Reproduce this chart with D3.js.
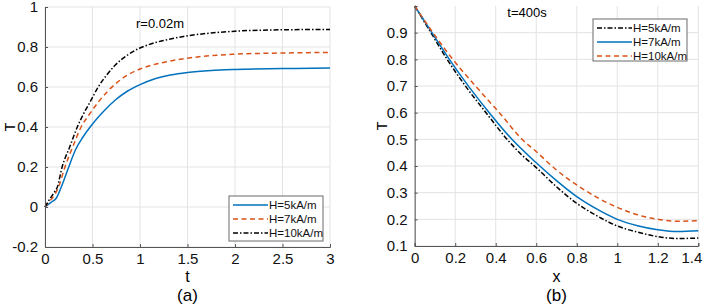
<!DOCTYPE html>
<html>
<head>
<meta charset="utf-8">
<script src="https://cdn.jsdelivr.net/npm/d3@7"></script>
<style>
  body { margin: 0; background: #fff; }
  svg { display: block; font-family: "Liberation Sans", Arial, sans-serif; }
</style>
</head>
<body>
<svg id="chart" width="708" height="305"></svg>
<script>
// ---- panel (a): T vs t, r=0.02m ----
const a_t_h5  = [0, 0.06, 0.12, 0.18, 0.25, 0.32, 0.4, 0.5, 0.6, 0.74, 0.87, 1.0, 1.15, 1.32, 1.5, 1.75, 2.0, 2.5, 3.0];
const a_T_h5  = [0, 0.022, 0.045, 0.11, 0.2, 0.285, 0.35, 0.415, 0.47, 0.535, 0.58, 0.612, 0.64, 0.66, 0.673, 0.683, 0.688, 0.692, 0.695];
const a_t_h7  = [0, 0.05, 0.1, 0.15, 0.21, 0.3, 0.38, 0.47, 0.57, 0.74, 0.87, 1.0, 1.1, 1.32, 1.5, 1.75, 2.0, 2.5, 3.0];
const a_T_h7  = [0, 0.03, 0.06, 0.11, 0.2, 0.31, 0.4, 0.465, 0.53, 0.615, 0.66, 0.69, 0.706, 0.73, 0.744, 0.757, 0.764, 0.77, 0.773];
const a_t_h10 = [0, 0.05, 0.1, 0.13, 0.18, 0.26, 0.34, 0.41, 0.48, 0.56, 0.65, 0.74, 0.87, 1.0, 1.1, 1.32, 1.46, 1.75, 2.0, 2.5, 3.0];
const a_T_h10 = [0, 0.04, 0.075, 0.1, 0.2, 0.3, 0.4, 0.47, 0.53, 0.6, 0.66, 0.71, 0.76, 0.795, 0.813, 0.84, 0.853, 0.87, 0.879, 0.886, 0.888];
const a_xticks = [0, 0.5, 1, 1.5, 2, 2.5, 3];
const a_yticks = [-0.2, 0, 0.2, 0.4, 0.6, 0.8, 1];
const a_legend = ["H=5kA/m", "H=7kA/m", "H=10kA/m"];

// ---- panel (b): T vs x, t=400s ----
const b_x_h5  = [0, 0.08, 0.16, 0.26, 0.352, 0.456, 0.52, 0.6, 0.7, 0.8, 0.9, 1.0, 1.1, 1.2, 1.3, 1.4];
const b_T_h5  = [1.0, 0.9, 0.8, 0.69, 0.6, 0.5, 0.448, 0.394, 0.322, 0.26, 0.213, 0.175, 0.152, 0.135, 0.128, 0.13];
const b_x_h7  = [0, 0.085, 0.171, 0.27, 0.368, 0.48, 0.6, 0.7, 0.8, 0.9, 1.0, 1.1, 1.2, 1.3, 1.4];
const b_T_h7  = [1.0, 0.9, 0.8, 0.695, 0.6, 0.5, 0.412, 0.345, 0.285, 0.238, 0.2, 0.176, 0.161, 0.154, 0.157];
const b_x_h10 = [0, 0.09, 0.188, 0.3, 0.418, 0.53, 0.6, 0.7, 0.8, 0.9, 1.0, 1.1, 1.2, 1.3, 1.4];
const b_T_h10 = [1.0, 0.9, 0.8, 0.7, 0.6, 0.5, 0.454, 0.385, 0.329, 0.282, 0.245, 0.217, 0.2, 0.193, 0.195];
const b_xticks = [0, 0.2, 0.4, 0.6, 0.8, 1, 1.2, 1.4];
const b_yticks = [0.1, 0.2, 0.3, 0.4, 0.5, 0.6, 0.7, 0.8, 0.9];
const b_legend = ["H=5kA/m", "H=7kA/m", "H=10kA/m"];

// matlab-ish colours and line styles
const blue = "#0072BD";
const red = "#D95319";
const black = "#000000";
const solid = null;
const dashed = "5,3.5";
const dashdot = "5,2,1.5,2";

const svg = d3.select("#chart");

function zip(xs, ys) {
    return xs.map((x, i) => ({x: x, y: ys[i]}));
}

function draw_panel(p) {
    const xScale = d3.scaleLinear().domain(p.xdomain).range([p.left, p.right]);
    const yScale = d3.scaleLinear().domain(p.ydomain).range([p.bottom, p.top]);
    const g = svg.append("g");

    // grid
    g.append("g").selectAll("line").data(p.xticks).join("line")
        .attr("x1", d => xScale(d)).attr("x2", d => xScale(d))
        .attr("y1", p.top).attr("y2", p.bottom)
        .attr("stroke", "#e3e3e3").attr("stroke-width", 1);
    g.append("g").selectAll("line").data(p.yticks).join("line")
        .attr("x1", p.left).attr("x2", p.right)
        .attr("y1", d => yScale(d)).attr("y2", d => yScale(d))
        .attr("stroke", "#e3e3e3").attr("stroke-width", 1);

    // curves
    const line = d3.line()
        .x(d => xScale(d.x))
        .y(d => yScale(d.y))
        .curve(d3.curveMonotoneX);
    p.series.forEach(s => {
        g.append("path")
            .attr("d", line(s.data))
            .attr("fill", "none")
            .attr("stroke", s.color)
            .attr("stroke-width", 1.5)
            .attr("stroke-dasharray", s.dash);
    });

    // axes, ticks pointing inwards like matlab
    const fmt = d => String(d);
    const xAxis = g.append("g")
        .attr("transform", `translate(0,${p.bottom})`)
        .call(d3.axisBottom(xScale).tickValues(p.xticks).tickSize(-3).tickPadding(5).tickFormat(fmt));
    const yAxis = g.append("g")
        .attr("transform", `translate(${p.left},0)`)
        .call(d3.axisLeft(yScale).tickValues(p.yticks).tickSize(-3).tickPadding(7).tickFormat(fmt));
    [xAxis, yAxis].forEach(ax => {
        ax.select(".domain").attr("stroke", "#555").attr("stroke-width", 1);
        ax.selectAll(".tick line").attr("stroke", "#555");
        ax.selectAll("text").attr("fill", "#111").style("font-size", "15px")
            .style("font-family", "'Liberation Sans', Arial, sans-serif");
    });
    xAxis.selectAll("text").attr("dy", "0.8em");
    if (p.lastTickShift) {
        xAxis.selectAll(".tick").filter(d => d === p.xticks[p.xticks.length - 1])
            .select("text").attr("dx", p.lastTickShift);
    }

    // labels
    g.append("text")
        .attr("x", (p.left + p.right) / 2).attr("y", 282)
        .attr("text-anchor", "middle").style("font-size", "16px")
        .text(p.xlabel);
    g.append("text")
        .attr("transform", `translate(${p.ylabelX},${(p.top + p.bottom) / 2}) rotate(-90)`)
        .attr("text-anchor", "middle").style("font-size", "14px")
        .text("T");
    g.append("text")
        .attr("x", (p.left + p.right) / 2).attr("y", 301)
        .attr("text-anchor", "middle").style("font-size", "17px")
        .text(p.caption);
    g.append("text")
        .attr("x", p.noteX).attr("y", p.noteY)
        .attr("text-anchor", "middle").style("font-size", "13px")
        .text(p.note);

    // legend
    const lg = g.append("g").attr("transform", `translate(${p.legend.x},${p.legend.y})`);
    lg.append("rect")
        .attr("width", p.legend.w).attr("height", p.legend.h)
        .attr("fill", "#fff").attr("stroke", "#6a6a6a").attr("stroke-width", 1);
    p.series.forEach((s, i) => {
        const cy = 9 + i * 14;
        lg.append("line")
            .attr("x1", 4).attr("x2", 39).attr("y1", cy).attr("y2", cy)
            .attr("stroke", s.color).attr("stroke-width", 1.5)
            .attr("stroke-dasharray", s.dash);
        lg.append("text")
            .attr("x", 40).attr("y", cy).attr("dy", "0.35em")
            .style("font-size", "11.5px").attr("fill", "#111")
            .text(s.name);
    });
}

draw_panel({
    left: 45, right: 330, top: 7, bottom: 247,
    xdomain: [0, 3], ydomain: [-0.2, 1],
    xticks: a_xticks, yticks: a_yticks,
    xlabel: "t", caption: "(a)", ylabelX: 15,
    note: "r=0.02m", noteX: 160, noteY: 28,
    legend: {x: 229, y: 196, w: 94, h: 45},
    series: [
        {name: a_legend[0], data: zip(a_t_h5, a_T_h5), color: blue, dash: solid},
        {name: a_legend[1], data: zip(a_t_h7, a_T_h7), color: red, dash: dashed},
        {name: a_legend[2], data: zip(a_t_h10, a_T_h10), color: black, dash: dashdot}
    ]
});

draw_panel({
    left: 414.7, right: 698.3, top: 6, bottom: 246,
    xdomain: [0, 1.4], ydomain: [0.1, 1.0],
    xticks: b_xticks, yticks: b_yticks,
    xlabel: "x", caption: "(b)", ylabelX: 387,
    note: "t=400s", noteX: 527, noteY: 17,
    lastTickShift: -7,
    legend: {x: 593, y: 19, w: 94, h: 42},
    series: [
        {name: b_legend[0], data: zip(b_x_h5, b_T_h5), color: black, dash: dashdot},
        {name: b_legend[1], data: zip(b_x_h7, b_T_h7), color: blue, dash: solid},
        {name: b_legend[2], data: zip(b_x_h10, b_T_h10), color: red, dash: dashed}
    ]
});
</script>
</body>
</html>
